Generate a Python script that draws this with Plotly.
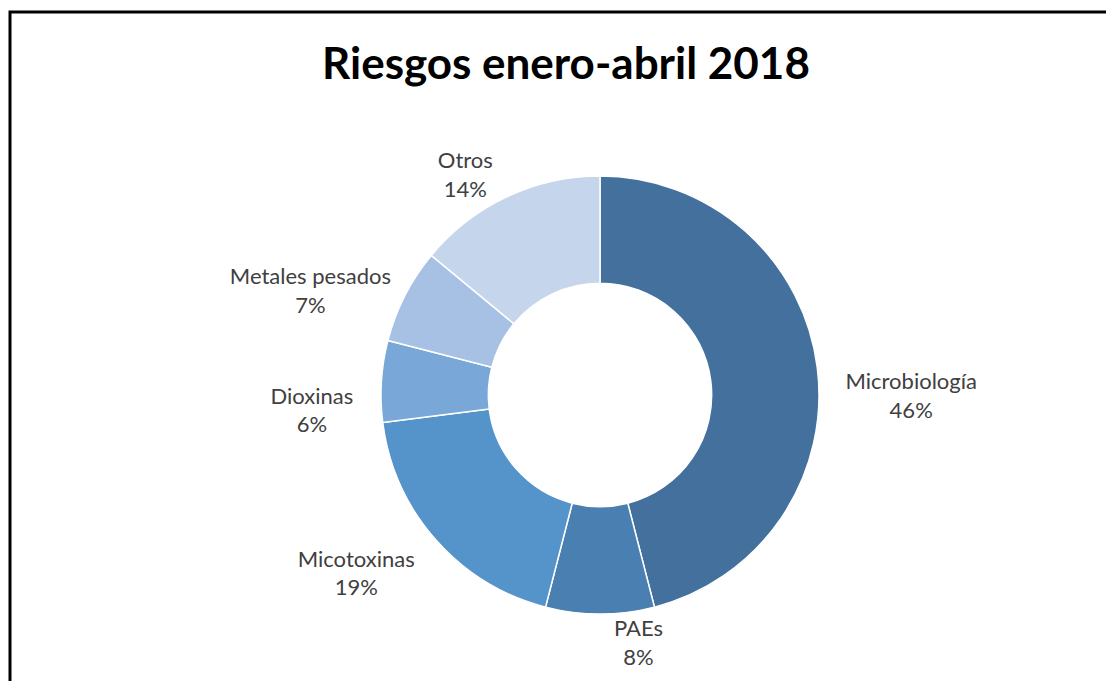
import plotly.graph_objects as go

categories = ["Microbiología", "PAEs", "Micotoxinas", "Dioxinas", "Metales pesados", "Otros"]
values = [46, 8, 19, 6, 7, 14]
colors = ["#43709D", "#4A7FB2", "#5593CB", "#79A7D8", "#A6C1E4", "#C5D5EB"]
title_text = "Riesgos enero-abril 2018"

W, H = 1114, 681
OFF = 8  # page body margin
cx, cy, r = 600 - OFF, 395 - OFF, 219

# label text layout (Excel-like placement: side labels sit lower)
LOW2 = "\u00a0<br>\u00a0<br>%{label}<br>%{percent:.0%}"
LOW1 = "\u00a0<br>%{label}<br>%{percent:.0%}"
STD = "%{label}<br>%{percent:.0%}"
templates = [LOW2, STD, LOW1, LOW2, STD, STD]

fig = go.Figure(go.Pie(
    labels=categories,
    values=values,
    sort=False,
    direction="clockwise",
    rotation=0,
    hole=0.51,
    marker=dict(colors=colors, line=dict(color="white", width=1.5)),
    texttemplate=templates,
    textposition="outside",
    textfont=dict(family="Lato, Calibri, sans-serif", size=22, color="#404040"),
    showlegend=False,
    domain=dict(x=[(cx - r) / W, (cx + r) / W], y=[1 - (cy + r) / H, 1 - (cy - r) / H]),
))

fig.update_layout(
    width=W, height=H,
    margin=dict(l=0, r=0, t=0, b=0),
    paper_bgcolor="white",
    title=dict(text="<b>" + title_text + "</b>", x=(566 - OFF) / W, xanchor="center",
               y=1 - (64 - OFF) / H, yanchor="middle",
               font=dict(family="Lato, Calibri, sans-serif", size=44, color="black")),
    shapes=[dict(type="rect", xref="paper", yref="paper",
                 x0=(10 - OFF) / W, x1=1.05, y0=-0.05, y1=1 - (12 - OFF) / H,
                 line=dict(color="black", width=3))],
)

fig.write_html("out.html")
